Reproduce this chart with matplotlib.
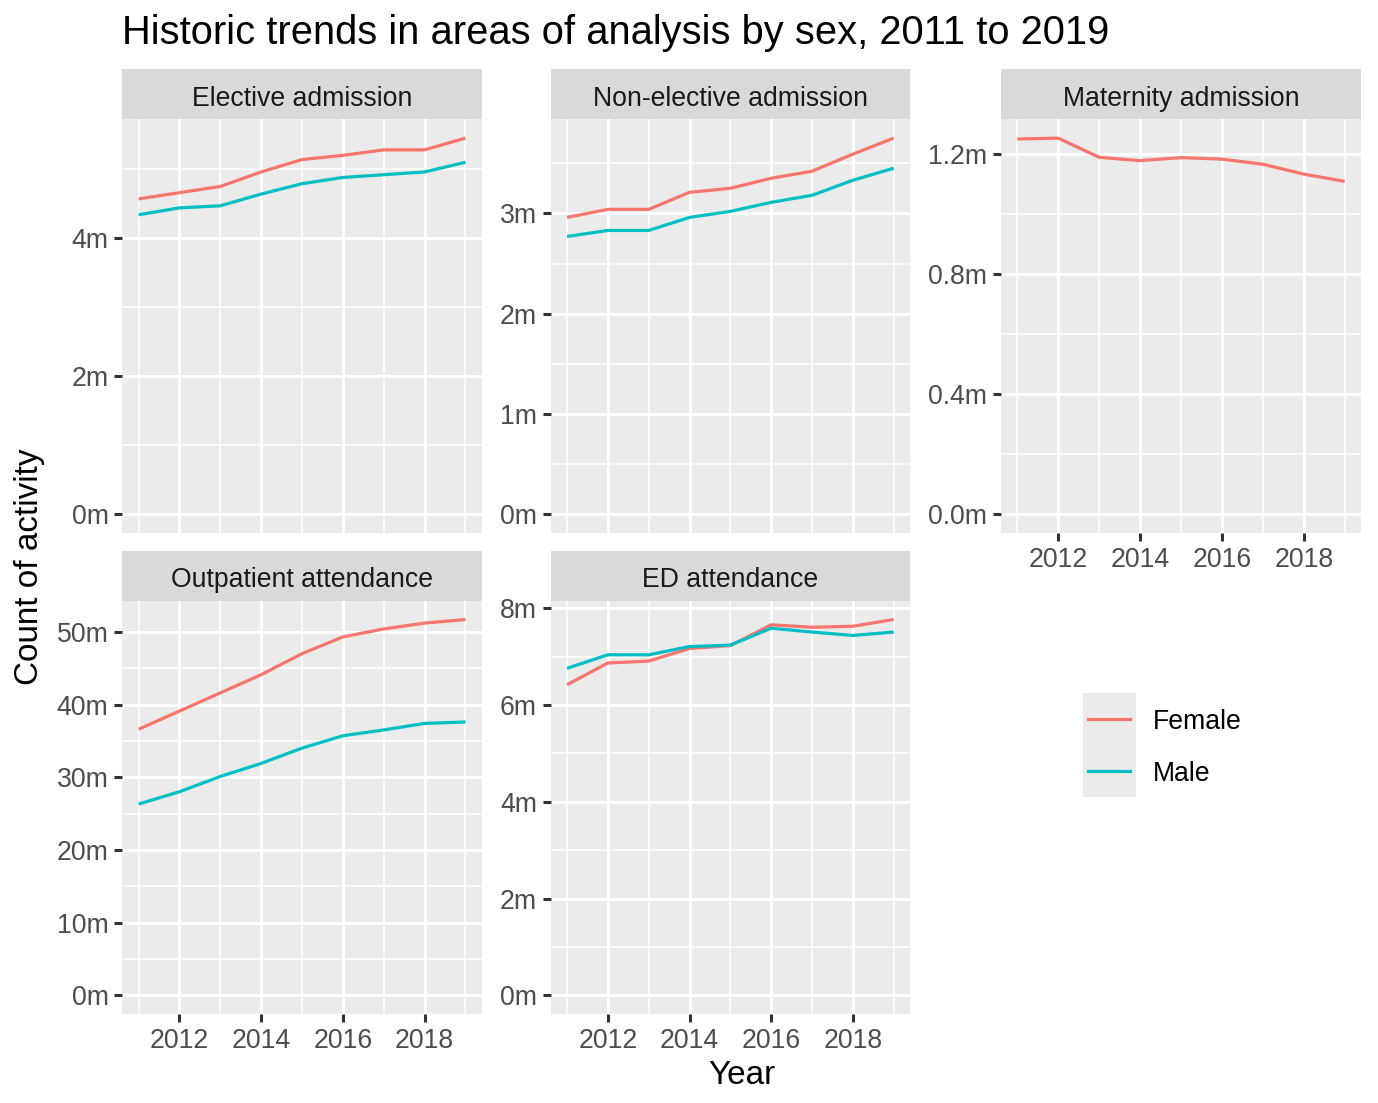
import matplotlib
matplotlib.use("Agg")
import matplotlib.pyplot as plt
from matplotlib.ticker import FixedLocator, FuncFormatter
from matplotlib.patches import Rectangle

plt.rcParams['font.family'] = ['Liberation Sans', 'DejaVu Sans']

# values in millions
years = [2011, 2012, 2013, 2014, 2015, 2016, 2017, 2018, 2019]
elective_female = [4.57, 4.66, 4.75, 4.96, 5.14, 5.20, 5.28, 5.28, 5.45]
elective_male = [4.34, 4.44, 4.47, 4.64, 4.79, 4.88, 4.92, 4.96, 5.10]
nonelective_female = [2.96, 3.04, 3.04, 3.21, 3.25, 3.35, 3.42, 3.59, 3.75]
nonelective_male = [2.77, 2.83, 2.83, 2.96, 3.02, 3.11, 3.18, 3.33, 3.45]
maternity_female = [1.251, 1.254, 1.190, 1.179, 1.189, 1.184, 1.167, 1.134, 1.110]
outpatient_female = [36.6, 39.1, 41.6, 44.1, 47.0, 49.3, 50.4, 51.2, 51.7]
outpatient_male = [26.3, 28.0, 30.1, 31.9, 34.0, 35.7, 36.5, 37.4, 37.6]
ed_female = [6.42, 6.87, 6.91, 7.17, 7.23, 7.66, 7.61, 7.63, 7.77]
ed_male = [6.76, 7.04, 7.04, 7.21, 7.24, 7.59, 7.51, 7.44, 7.51]

sexes = ['Female', 'Male']
colors = {'Female': '#F8766D', 'Male': '#00BFC4'}

W, H = 1378, 1103
DPI = 200
k = 1.09  # text scale
fig = plt.figure(figsize=(W / DPI, H / DPI), dpi=DPI)
fig.patch.set_facecolor('white')


def box(x0, x1, y0, y1):
    return [x0 / W, 1 - y1 / H, (x1 - x0) / W, (y1 - y0) / H]


# panel name, pixel box, series, y major step, y decimals, show x labels
panels = [
    ('Elective admission', (122.3, 481.7, 119.3, 533.3),
     {'Female': elective_female, 'Male': elective_male}, 2, 0, False),
    ('Non-elective admission', (550.7, 910, 119.3, 533.3),
     {'Female': nonelective_female, 'Male': nonelective_male}, 1, 0, False),
    ('Maternity admission', (1001, 1361, 119.3, 533.3),
     {'Female': maternity_female}, 0.4, 1, True),
    ('Outpatient attendance', (122.3, 481.7, 600.7, 1014),
     {'Female': outpatient_female, 'Male': outpatient_male}, 10, 0, True),
    ('ED attendance', (550.7, 910, 600.7, 1014),
     {'Female': ed_female, 'Male': ed_male}, 2, 0, True),
]

strip_h = 50
for name, (x0, x1, y0, y1), series, step, dec, show_x in panels:
    ax = fig.add_axes(box(x0, x1, y0, y1))
    ax.set_facecolor('#EBEBEB')
    for s in ['top', 'right', 'bottom', 'left']:
        ax.spines[s].set_visible(False)

    ymax = max(max(v) for v in series.values())
    pad = 0.05 * ymax
    ax.set_ylim(-pad, ymax + pad)
    ax.set_xlim(2011 - 0.4, 2019 + 0.4)

    major_y = []
    v = 0.0
    while v <= ymax + pad:
        major_y.append(round(v, 6))
        v += step
    minor_y = [round(m + step / 2, 6) for m in major_y if m + step / 2 <= ymax + pad]
    ax.yaxis.set_major_locator(FixedLocator(major_y))
    ax.yaxis.set_minor_locator(FixedLocator(minor_y))
    ax.yaxis.set_major_formatter(FuncFormatter(lambda val, pos, d=dec: f'{val:.{d}f}m'))
    ax.xaxis.set_major_locator(FixedLocator([2012, 2014, 2016, 2018]))
    ax.xaxis.set_minor_locator(FixedLocator([2011, 2013, 2015, 2017, 2019]))

    ax.grid(which='major', color='white', linewidth=1.1)
    ax.grid(which='minor', color='white', linewidth=0.55)
    ax.set_axisbelow(True)

    ax.tick_params(which='major', length=2.75, width=1.1, color='#333333',
                   labelsize=8.8 * k, labelcolor='#4D4D4D', pad=2.2)
    ax.tick_params(which='minor', length=0)
    if not show_x:
        ax.tick_params(axis='x', which='major', length=0, labelbottom=False)

    for sex in sexes:
        if sex in series:
            ax.plot(years, series[sex], color=colors[sex], linewidth=1.15,
                    solid_capstyle='butt')

    sax = fig.add_axes(box(x0, x1, y0 - strip_h, y0))
    sax.set_facecolor('#D9D9D9')
    sax.set_xticks([])
    sax.set_yticks([])
    for s in ['top', 'right', 'bottom', 'left']:
        sax.spines[s].set_visible(False)
    sax.text(0.5, 0.47, name, ha='center', va='center_baseline', fontsize=8.8 * k,
             color='#1A1A1A', transform=sax.transAxes)

fig.text(122 / W, 1 - 44 / H, 'Historic trends in areas of analysis by sex, 2011 to 2019',
         ha='left', va='baseline', fontsize=13.2 * k, color='black')
fig.text(30 / W, 1 - 567 / H, 'Count of activity', rotation=90,
         ha='center', va='center', fontsize=11 * k, color='black')
fig.text(741.5 / W, 1 - 1075 / H, 'Year', ha='center', va='center',
         fontsize=11 * k, color='black')

# legend
lax = fig.add_axes(box(1082.7, 1300, 692.7, 797.3))
lax.set_xlim(0, 1)
lax.set_ylim(0, len(sexes))
lax.axis('off')
key_w = (1135.7 - 1082.7) / (1300 - 1082.7)
lax.add_patch(Rectangle((0, 0), key_w, len(sexes), facecolor='#EBEBEB',
                        edgecolor='none'))
for i, sex in enumerate(sexes):
    yc = len(sexes) - i - 0.5
    lax.plot([0.1 * key_w, 0.9 * key_w], [yc, yc], color=colors[sex],
             linewidth=1.15)
    lax.text(key_w + 17 / (1300 - 1082.7), yc, sex, ha='left', va='center_baseline',
             fontsize=8.8 * k, color='black')

fig.savefig('out.png', dpi=DPI)
